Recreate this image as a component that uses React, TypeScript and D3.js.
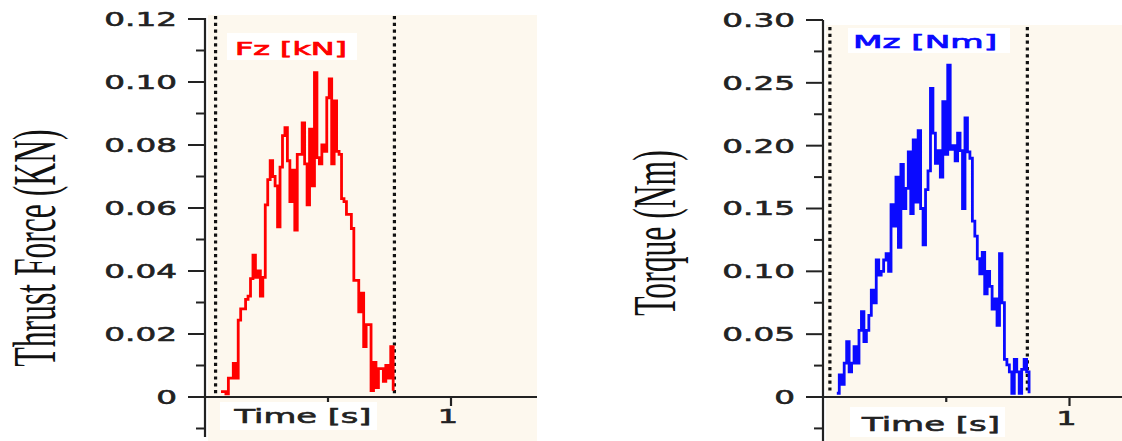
import * as d3 from 'd3';

// Thrust force Fz [kN], sampled every 10 ms from 0.065 s to 0.765 s
const fzStart = 0.065;
const fzEnd = 0.765;
const fzValues = [
  0.0017, 0.0017, 0.001, 0.006, 0.006, 0.0107, 0.006, 0.0244, 0.028, 0.028,
  0.031, 0.032, 0.0376, 0.045, 0.038, 0.04, 0.032, 0.038, 0.061, 0.069,
  0.075, 0.07, 0.067, 0.054, 0.073, 0.083, 0.0855, 0.075, 0.062, 0.072,
  0.053, 0.077, 0.077, 0.087, 0.074, 0.061, 0.085, 0.067, 0.103, 0.076,
  0.074, 0.08, 0.078, 0.095, 0.101, 0.074, 0.094, 0.078, 0.077, 0.063,
  0.062, 0.058, 0.058, 0.0535, 0.037, 0.037, 0.027, 0.033, 0.016, 0.023,
  0.023, 0.002, 0.011, 0.003, 0.009, 0.009, 0.005, 0.01, 0.006, 0.016,
  0.002,
];
const fzMarkers = [0.043, 0.77];
const fzTicks = [0, 0.02, 0.04, 0.06, 0.08, 0.1, 0.12];
const fzTickLabels = ['0', '0.02', '0.04', '0.06', '0.08', '0.10', '0.12'];
const fzMinorTicks = [-0.01, 0.01, 0.03, 0.05, 0.07, 0.09, 0.11];

// Torque Mz [Nm], sampled every 10 ms from 0.056 s to 0.836 s
const mzStart = 0.056;
const mzEnd = 0.836;
const mzValues = [
  0.003, 0.0175, 0.01, 0.027, 0.044, 0.02, 0.027, 0.04, 0.027, 0.053,
  0.068, 0.044, 0.053, 0.065, 0.085, 0.075, 0.109, 0.097, 0.1, 0.109,
  0.114, 0.1, 0.153, 0.136, 0.175, 0.119, 0.185, 0.15, 0.166, 0.195,
  0.146, 0.2045, 0.155, 0.212, 0.15, 0.121, 0.165, 0.18, 0.2456, 0.21,
  0.186, 0.196, 0.175, 0.235, 0.193, 0.264, 0.197, 0.2, 0.188, 0.21,
  0.196, 0.15, 0.222, 0.195, 0.19, 0.14, 0.128, 0.11, 0.098, 0.115,
  0.082, 0.1, 0.088, 0.07, 0.078, 0.057, 0.114, 0.075, 0.03, 0.0255,
  0.02, 0.003, 0.03, 0.02, 0.003, 0.022, 0.03, 0.02, 0.003,
];
const mzMarkers = [0.028, 0.829];
const mzTicks = [0, 0.05, 0.1, 0.15, 0.2, 0.25, 0.3];
const mzTickLabels = ['0', '0.05', '0.10', '0.15', '0.20', '0.25', '0.30'];
const mzMinorTicks = [-0.025, 0.025, 0.075, 0.125, 0.175, 0.225, 0.275];

const timeTicks = [0.5, 1];
const timeTickLabels = ['', '1'];

const SANS = '"DejaVu Sans", Verdana, sans-serif';
const SERIF = '"Liberation Serif", "Times New Roman", serif';
const BG = '#fdf8ee';
const INK = '#222';

interface Box { x: number; y: number; w: number; h: number; textX: number; textY: number; textLen: number }

interface PanelProps {
  values: number[];
  start: number;
  end: number;
  markers: number[];
  ticks: number[];
  tickLabels: string[];
  minorTicks: number[];
  yMax: number;
  color: string;
  legend: string;
  yLabel: string;
  layout: {
    x0: number; x1: number; right: number;
    y0: number; yTop: number; axisTop: number; axisBottom: number;
    bgTop: number; markerTop: number;
    labelX: number; labelY: number;
    legendBox: Box; timeBox: Box; tickLabelY: number;
  };
}

function Panel({ values, start, end, markers, ticks, tickLabels, minorTicks, yMax, color, legend, yLabel, layout: L }: PanelProps) {
  const x = d3.scaleLinear().domain([0, 1]).range([L.x0, L.x1]);
  const y = d3.scaleLinear().domain([0, yMax]).range([L.y0, L.yTop]);
  const t = d3.scaleLinear().domain([0, values.length - 1]).range([start, end]);

  const line = d3.line<number>()
    .x((_, i) => x(t(i)))
    .y(d => y(d))
    .curve(d3.curveStepAfter);

  return (
    <g>
      {/* plot background */}
      <rect x={L.x0 + 3} y={L.bgTop} width={L.right - L.x0 - 3} height={441 - L.bgTop} fill={BG} />

      {/* legend box */}
      <rect x={L.legendBox.x} y={L.legendBox.y} width={L.legendBox.w} height={L.legendBox.h} fill="#fff" />
      <text x={L.legendBox.textX} y={L.legendBox.textY} textAnchor="middle" fontFamily={SANS} fontSize={17}
        fill={color} stroke={color} strokeWidth={0.7}
        textLength={L.legendBox.textLen} lengthAdjust="spacingAndGlyphs">{legend}</text>

      {/* time label box */}
      <rect x={L.timeBox.x} y={L.timeBox.y} width={L.timeBox.w} height={L.timeBox.h} fill="#fff" />
      <text x={L.timeBox.textX} y={L.timeBox.textY} textAnchor="middle" fontFamily={SANS} fontSize={20}
        fill={INK} stroke={INK} strokeWidth={0.6}
        textLength={L.timeBox.textLen} lengthAdjust="spacingAndGlyphs">Time [s]</text>

      {/* trigger markers */}
      {markers.map((m, i) => (
        <line key={i} x1={x(m)} x2={x(m)} y1={L.markerTop} y2={L.y0 - 3}
          stroke="#111" strokeWidth={3.2} strokeDasharray="3.2,3.6" />
      ))}

      {/* signal */}
      <path d={line(values) ?? ''} fill="none" stroke={color} strokeWidth={2.8} />

      {/* y axis */}
      <line x1={L.x0} x2={L.x0} y1={L.axisTop} y2={L.axisBottom} stroke={INK} strokeWidth={2.2} />
      {ticks.map((v, i) => (
        <g key={i}>
          <line x1={L.x0 - 17} x2={L.x0} y1={y(v)} y2={y(v)} stroke={INK} strokeWidth={2} />
          <text transform={`translate(${L.x0 - 28},${y(v)}) scale(1.72,1)`} textAnchor="end" dy="0.36em"
            fontFamily={SANS} fontSize={19} fill={INK} stroke={INK} strokeWidth={0.55}>{tickLabels[i]}</text>
        </g>
      ))}
      {minorTicks.map((v, i) => (
        <line key={i} x1={L.x0 - 9} x2={L.x0} y1={y(v)} y2={y(v)} stroke={INK} strokeWidth={2} />
      ))}

      {/* x axis */}
      <line x1={L.x0 - 8} x2={L.right} y1={L.y0} y2={L.y0} stroke={INK} strokeWidth={2.2} />
      {timeTicks.map((v, i) => (
        <g key={i}>
          <line x1={x(v)} x2={x(v)} y1={L.y0} y2={L.y0 + (timeTickLabels[i] ? 9 : 5)} stroke={INK} strokeWidth={2.2} />
          {timeTickLabels[i] && (
            <text transform={`translate(${x(v) - 3},${L.tickLabelY}) scale(1.6,1)`} textAnchor="middle"
              fontFamily={SANS} fontSize={20} fill={INK} stroke={INK} strokeWidth={0.6}>{timeTickLabels[i]}</text>
          )}
        </g>
      ))}

      {/* y label: tall, narrow serif type */}
      <text transform={`translate(${L.labelX},${L.labelY}) rotate(-90) scale(0.51,1)`} textAnchor="middle"
        fontFamily={SERIF} fontSize={62} fill="#111">{yLabel}</text>
    </g>
  );
}

export default function App() {
  return (
    <svg width={1122} height={441} style={{ position: 'absolute', left: 0, top: 0, background: '#fff' }}>
      <Panel
        values={fzValues} start={fzStart} end={fzEnd} markers={fzMarkers}
        ticks={fzTicks} tickLabels={fzTickLabels} minorTicks={fzMinorTicks} yMax={0.12}
        color="#ff0000" legend="Fz [kN]" yLabel="Thrust Force (KN)"
        layout={{
          x0: 205, x1: 451, right: 537, y0: 397, yTop: 19, axisTop: 18, axisBottom: 437,
          bgTop: 15, markerTop: 16, labelX: 55, labelY: 248,
          legendBox: { x: 227, y: 33, w: 130, h: 27, textX: 291, textY: 55, textLen: 112 },
          timeBox: { x: 220, y: 402, w: 157, h: 28, textX: 303, textY: 423, textLen: 137 },
          tickLabelY: 423,
        }}
      />
      <Panel
        values={mzValues} start={mzStart} end={mzEnd} markers={mzMarkers}
        ticks={mzTicks} tickLabels={mzTickLabels} minorTicks={mzMinorTicks} yMax={0.3}
        color="#0a0aff" legend="Mz [Nm]" yLabel="Torque (Nm)"
        layout={{
          x0: 823, x1: 1069.5, right: 1122, y0: 397, yTop: 20, axisTop: 20, axisBottom: 441,
          bgTop: 25, markerTop: 27, labelX: 675, labelY: 233,
          legendBox: { x: 848, y: 28, w: 162, h: 25, textX: 925, textY: 48, textLen: 144 },
          timeBox: { x: 850, y: 407, w: 155, h: 30, textX: 931, textY: 431, textLen: 138 },
          tickLabelY: 425,
        }}
      />
    </svg>
  );
}
